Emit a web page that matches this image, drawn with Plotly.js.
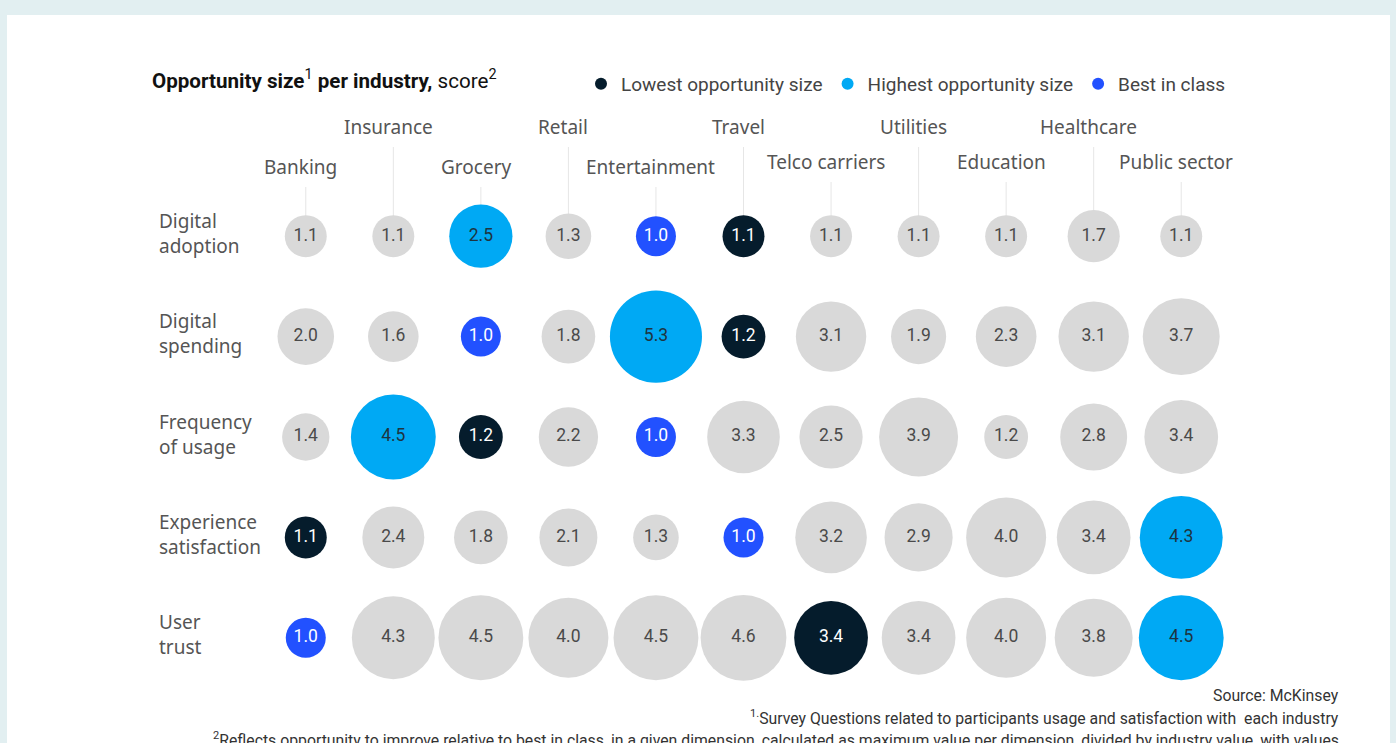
<!DOCTYPE html>
<html><head><meta charset="utf-8">
<script src="https://cdn.plot.ly/plotly-3.0.1.min.js"></script>
<style>html,body{margin:0;padding:0;background:#e2eff1;overflow:hidden}#chart{width:1396px;height:743px}</style>
</head><body><div id="chart"></div>
<script>
// ---- data ----
const industries = ["Banking","Insurance","Grocery","Retail","Entertainment","Travel","Telco carriers","Utilities","Education","Healthcare","Public sector"];
const dimensions = ["Digital<br>adoption","Digital<br>spending","Frequency<br>of usage","Experience<br>satisfaction","User<br>trust"];
const digitalAdoption        = [1.1,1.1,2.5,1.3,1.0,1.1,1.1,1.1,1.1,1.7,1.1];
const digitalSpending        = [2.0,1.6,1.0,1.8,5.3,1.2,3.1,1.9,2.3,3.1,3.7];
const frequencyOfUsage       = [1.4,4.5,1.2,2.2,1.0,3.3,2.5,3.9,1.2,2.8,3.4];
const experienceSatisfaction = [1.1,2.4,1.8,2.1,1.3,1.0,3.2,2.9,4.0,3.4,4.3];
const userTrust              = [1.0,4.3,4.5,4.0,4.5,4.6,3.4,3.4,4.0,3.8,4.5];
// industry index flagged in each dimension
const lowestIdx  = [5,5,2,0,6];
const highestIdx = [2,4,1,10,10];
const bestIdx    = [4,2,4,5,0];
const legendNames = ["Lowest opportunity size","Highest opportunity size","Best in class"];
const titleText = "<b>Opportunity size</b><sup>1</sup><b> per industry,</b> score<sup>2</sup>";
const footnotes = [
  "Source: McKinsey",
  "<sup>1.</sup>Survey Questions related to participants usage and satisfaction with  each industry",
  "<sup>2</sup>Reflects opportunity to improve relative to best in class, in a given dimension, calculated as maximum value per dimension, divided by industry value, with values"
];

// ---- build ----
const rows = [digitalAdoption, digitalSpending, frequencyOfUsage, experienceSatisfaction, userTrust];
const W = 1396, H = 743, ML = 262, MR = 171, MT = 186, MB = 55;
const PW = W - ML - MR, PH = H - MT - MB;
const pxX = p => (p - ML) / PW;
const pxY = p => (H - MB - p) / PH;

const groups = {
  gray:    {x:[],y:[],v:[],color:"#d9d9d9", tc:"#4a4a4a", name:"", show:false},
  lowest:  {x:[],y:[],v:[],color:"#051c2c", tc:"#ffffff", name:legendNames[0], show:true},
  highest: {x:[],y:[],v:[],color:"#00a9f4", tc:"#1e3440", name:legendNames[1], show:true},
  best:    {x:[],y:[],v:[],color:"#2251ff", tc:"#ffffff", name:legendNames[2], show:true}
};
rows.forEach((vals, r) => {
  vals.forEach((v, c) => {
    let g = "gray";
    if (c === lowestIdx[r]) g = "lowest";
    else if (c === highestIdx[r]) g = "highest";
    else if (c === bestIdx[r]) g = "best";
    groups[g].x.push(c); groups[g].y.push(r); groups[g].v.push(v);
  });
});
const traces = ["gray","lowest","highest","best"].map(k => {
  const g = groups[k];
  return {
    type:"scatter", mode:"markers+text", x:g.x, y:g.y,
    text:g.v.map(v => v.toFixed(1)), textposition:"middle center",
    textfont:{family:"Roboto, sans-serif", size:17.5, color:g.tc},
    marker:{size:g.v, sizemode:"area", sizeref:1/800, color:g.color, line:{width:0}, opacity:1},
    name:g.name, showlegend:g.show, cliponaxis:false, hoverinfo:"skip"
  };
});

const annotations = [];
const shapes = [];
// card
shapes.push({type:"rect", xref:"paper", yref:"paper", x0:pxX(7), x1:pxX(1390), y0:pxY(15), y1:pxY(800),
  fillcolor:"#ffffff", line:{width:0}, layer:"below"});
// title
annotations.push({xref:"paper", yref:"paper", x:pxX(150), y:pxY(80), xanchor:"left", yanchor:"middle",
  text:titleText, showarrow:false, font:{family:"Roboto, sans-serif", size:20.6, color:"#111"}});
// column headers + connectors
const row0 = 1 - 0.5 / rows.length;
industries.forEach((name, i) => {
  const upper = i % 2 === 1;
  const ly = upper ? 127 : (i >= 6 ? 162 : 167);
  annotations.push({xref:"x", yref:"paper", x:i, y:pxY(ly), xanchor:"center", yanchor:"middle", xshift:-5,
    text:name, showarrow:false, font:{family:"Noto Sans, sans-serif", size:19, color:"#555"}});
  shapes.push({type:"line", xref:"x", yref:"paper", x0:i, x1:i, y0:row0, y1:pxY(ly + 20),
    line:{color:"#e6e6e6", width:1}, layer:"below"});
});
// row labels
dimensions.forEach((d, r) => {
  annotations.push({xref:"paper", yref:"y", x:pxX(157), y:r, xanchor:"left", yanchor:"middle", align:"left",
    text:d, showarrow:false, yshift:3, font:{family:"Noto Sans, sans-serif", size:19, color:"#555"}});
});
// footnotes
[695, 717, 739].forEach((py, i) => {
  annotations.push({xref:"paper", yref:"paper", x:pxX(1341), y:pxY(py), xanchor:"right", yanchor:"middle",
    text:footnotes[i], showarrow:false, font:{family:"Roboto, sans-serif", size:15.8, color:"#333"}});
});

const layout = {
  width:W, height:H, margin:{l:ML, r:MR, t:MT, b:MB, pad:0},
  paper_bgcolor:"#e2eff1", plot_bgcolor:"rgba(0,0,0,0)",
  xaxis:{range:[-0.5, industries.length - 0.5], visible:false, fixedrange:true},
  yaxis:{range:[rows.length - 0.5, -0.5], visible:false, fixedrange:true},
  showlegend:true,
  legend:{orientation:"h", x:pxX(581), xanchor:"left", y:pxY(84), yanchor:"middle",
    bgcolor:"rgba(0,0,0,0)", itemsizing:"constant", traceorder:"normal",
    font:{family:"Roboto, sans-serif", size:19, color:"#444"}},
  annotations, shapes
};
Plotly.newPlot("chart", traces, layout, {displayModeBar:false, staticPlot:true});
</script></body></html>
